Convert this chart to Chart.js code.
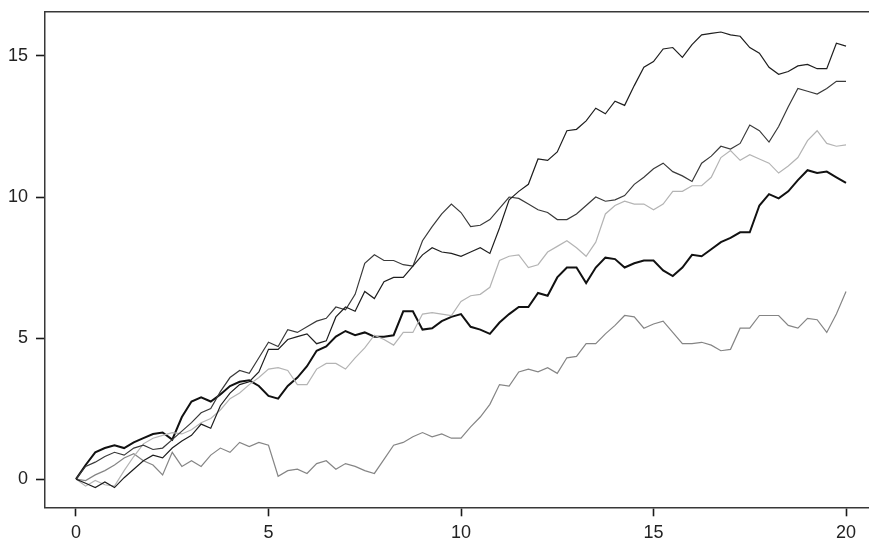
<!DOCTYPE html>
<html>
<head>
<meta charset="utf-8">
<script src="https://cdn.jsdelivr.net/npm/chart.js@4/dist/chart.umd.min.js"></script>
<style>
  html, body { margin: 0; padding: 0; background: #ffffff; overflow: hidden; }
  #wrap { position: absolute; left: 0; top: 0; width: 869px; height: 539px; }
</style>
</head>
<body>
<div id="wrap"><canvas id="c" width="869" height="539"></canvas></div>
<script>
// time points (x)
const timePoints = [
  0, 0.25, 0.5, 0.75, 1, 1.25, 1.5, 1.75, 2, 2.25, 2.5, 2.75, 3, 3.25, 3.5, 3.75,
  4, 4.25, 4.5, 4.75, 5, 5.25, 5.5, 5.75, 6, 6.25, 6.5, 6.75, 7, 7.25, 7.5, 7.75,
  8, 8.25, 8.5, 8.75, 9, 9.25, 9.5, 9.75, 10, 10.25, 10.5, 10.75, 11, 11.25, 11.5, 11.75,
  12, 12.25, 12.5, 12.75, 13, 13.25, 13.5, 13.75, 14, 14.25, 14.5, 14.75, 15, 15.25, 15.5, 15.75,
  16, 16.25, 16.5, 16.75, 17, 17.25, 17.5, 17.75, 18, 18.25, 18.5, 18.75, 19, 19.25, 19.5, 19.75, 20
];

// path A (thin black, ends highest)
const pathA = [
  0.0, -0.15, -0.3, -0.1, -0.3, 0.05, 0.35, 0.65, 0.85, 0.75, 1.1, 1.35, 1.55, 1.95, 1.8, 2.6,
  3.05, 3.35, 3.45, 3.8, 4.6, 4.6, 4.95, 5.05, 5.15, 4.8, 4.9, 5.75, 6.1, 5.95, 6.65, 6.4,
  7.0, 7.15, 7.15, 7.55, 7.95, 8.2, 8.05, 8.0, 7.9, 8.05, 8.2, 8.0, 8.9, 9.9, 10.2, 10.45,
  11.35, 11.3, 11.6, 12.35, 12.4, 12.7, 13.15, 12.95, 13.4, 13.25, 13.95, 14.6, 14.8, 15.25, 15.3, 14.95,
  15.4, 15.75, 15.8, 15.85, 15.75, 15.7, 15.3, 15.1, 14.6, 14.35, 14.45, 14.65, 14.7, 14.55, 14.55, 15.45, 15.35
];

// path B (thin dark grey)
const pathB = [
  0.0, 0.45, 0.6, 0.8, 0.95, 0.85, 1.1, 1.2, 1.05, 1.1, 1.4, 1.7, 2.0, 2.35, 2.5, 3.1,
  3.6, 3.85, 3.75, 4.3, 4.85, 4.7, 5.3, 5.2, 5.4, 5.6, 5.7, 6.1, 6.0, 6.55, 7.65, 7.95,
  7.75, 7.75, 7.6, 7.55, 8.45, 8.95, 9.4, 9.75, 9.45, 8.95, 9.0, 9.2, 9.6, 10.0, 9.95, 9.75,
  9.55, 9.45, 9.2, 9.2, 9.4, 9.7, 10.0, 9.85, 9.9, 10.05, 10.45, 10.7, 11.0, 11.2, 10.9, 10.75,
  10.55, 11.2, 11.45, 11.8, 11.7, 11.9, 12.55, 12.35, 11.95, 12.5, 13.2, 13.85, 13.75, 13.65, 13.85, 14.1, 14.1
];

// path C (light grey)
const pathC = [
  0.0, -0.25, -0.05, -0.2, -0.25, 0.3, 0.8, 1.25, 1.45, 1.55, 1.65, 1.6, 1.75, 2.0, 2.15, 2.45,
  2.85, 3.05, 3.35, 3.6, 3.9, 3.95, 3.85, 3.35, 3.35, 3.9, 4.1, 4.1, 3.9, 4.3, 4.65, 5.1,
  4.95, 4.75, 5.2, 5.2, 5.85, 5.9, 5.85, 5.8, 6.3, 6.5, 6.55, 6.8, 7.75, 7.9, 7.95, 7.5,
  7.6, 8.05, 8.25, 8.45, 8.2, 7.9, 8.4, 9.4, 9.7, 9.85, 9.75, 9.75, 9.55, 9.75, 10.2, 10.2,
  10.4, 10.4, 10.7, 11.4, 11.65, 11.3, 11.5, 11.35, 11.2, 10.85, 11.1, 11.4, 12.0, 12.35, 11.9, 11.8, 11.85
];

// path D (thick black)
const pathD = [
  0.0, 0.5, 0.95, 1.1, 1.2, 1.1, 1.3, 1.45, 1.6, 1.65, 1.4, 2.2, 2.75, 2.9, 2.75, 3.0,
  3.3, 3.45, 3.5, 3.3, 2.95, 2.85, 3.3, 3.6, 4.0, 4.55, 4.7, 5.05, 5.25, 5.1, 5.2, 5.05,
  5.05, 5.1, 5.95, 5.95, 5.3, 5.35, 5.6, 5.75, 5.85, 5.4, 5.3, 5.15, 5.55, 5.85, 6.1, 6.1,
  6.6, 6.5, 7.15, 7.5, 7.5, 6.95, 7.5, 7.85, 7.8, 7.5, 7.65, 7.75, 7.75, 7.4, 7.2, 7.5,
  7.95, 7.9, 8.15, 8.4, 8.55, 8.75, 8.75, 9.7, 10.1, 9.95, 10.2, 10.6, 10.95, 10.85, 10.9, 10.7, 10.5
];

// path E (medium grey, ends lowest)
const pathE = [
  0.0, -0.05, 0.15, 0.3, 0.5, 0.75, 0.9, 0.65, 0.5, 0.15, 0.95, 0.45, 0.65, 0.45, 0.85, 1.1,
  0.95, 1.3, 1.15, 1.3, 1.2, 0.1, 0.3, 0.35, 0.2, 0.55, 0.65, 0.35, 0.55, 0.45, 0.3, 0.2,
  0.7, 1.2, 1.3, 1.5, 1.65, 1.5, 1.6, 1.45, 1.45, 1.85, 2.2, 2.65, 3.35, 3.3, 3.8, 3.9,
  3.8, 3.95, 3.75, 4.3, 4.35, 4.8, 4.8, 5.15, 5.45, 5.8, 5.75, 5.35, 5.5, 5.6, 5.2, 4.8,
  4.8, 4.85, 4.75, 4.55, 4.6, 5.35, 5.35, 5.8, 5.8, 5.8, 5.45, 5.35, 5.7, 5.65, 5.2, 5.85, 6.65
];

const xTicks = [0, 5, 10, 15, 20];
const yTicks = [0, 5, 10, 15];

const series = [
  { name: 'A', values: pathA, color: '#1e1e1e', width: 1.2 },
  { name: 'B', values: pathB, color: '#3a3a3a', width: 1.2 },
  { name: 'C', values: pathC, color: '#b4b4b4', width: 1.2 },
  { name: 'D', values: pathD, color: '#111111', width: 2.0 },
  { name: 'E', values: pathE, color: '#858585', width: 1.2 }
];

const datasets = series.map(s => ({
  label: s.name,
  data: timePoints.map((t, i) => ({ x: t, y: s.values[i] })),
  borderColor: s.color,
  borderWidth: s.width,
  pointRadius: 0,
  tension: 0,
  fill: false
}));

const framePlugin = {
  id: 'frame',
  afterDraw(chart) {
    const { ctx, chartArea } = chart;
    ctx.save();
    ctx.strokeStyle = '#383838';
    ctx.lineWidth = 1.5;
    ctx.beginPath();
    ctx.moveTo(chartArea.left, chartArea.top);
    ctx.lineTo(chartArea.right, chartArea.top);
    ctx.stroke();
    ctx.restore();
  }
};

const tickFont = { family: '"Liberation Sans", Arial, Helvetica, sans-serif', size: 18 };

function zeroPad(s) {
  s.paddingTop = 0; s.paddingBottom = 0; s.paddingLeft = 0; s.paddingRight = 0;
}

new Chart(document.getElementById('c'), {
  type: 'line',
  data: { datasets },
  plugins: [framePlugin],
  options: {
    responsive: false,
    animation: false,
    events: [],
    layout: { padding: { top: 11.7, right: 0, left: 0, bottom: 0 } },
    plugins: { legend: { display: false }, tooltip: { enabled: false } },
    scales: {
      x: {
        type: 'linear',
        min: -0.805,
        max: 20.597,
        afterBuildTicks: s => { s.ticks = xTicks.map(v => ({ value: v })); },
        afterFit: s => { s.height = 31.7; zeroPad(s); },
        grid: { drawOnChartArea: false, drawTicks: true, tickLength: 9, tickColor: '#1a1a1a', tickWidth: 1.6 },
        border: { display: true, color: '#383838', width: 1.5 },
        ticks: { font: tickFont, color: '#222222', padding: 6, maxRotation: 0, callback: v => String(v) }
      },
      y: {
        type: 'linear',
        min: -1.0,
        max: 16.57,
        afterBuildTicks: s => { s.ticks = yTicks.map(v => ({ value: v })); },
        afterFit: s => { s.width = 45; zeroPad(s); },
        grid: { drawOnChartArea: false, drawTicks: true, tickLength: 9, tickColor: '#1a1a1a', tickWidth: 1.6 },
        border: { display: true, color: '#383838', width: 1.5 },
        ticks: { font: tickFont, color: '#222222', padding: 8, callback: v => String(v) }
      }
    }
  }
});
</script>
</body>
</html>
